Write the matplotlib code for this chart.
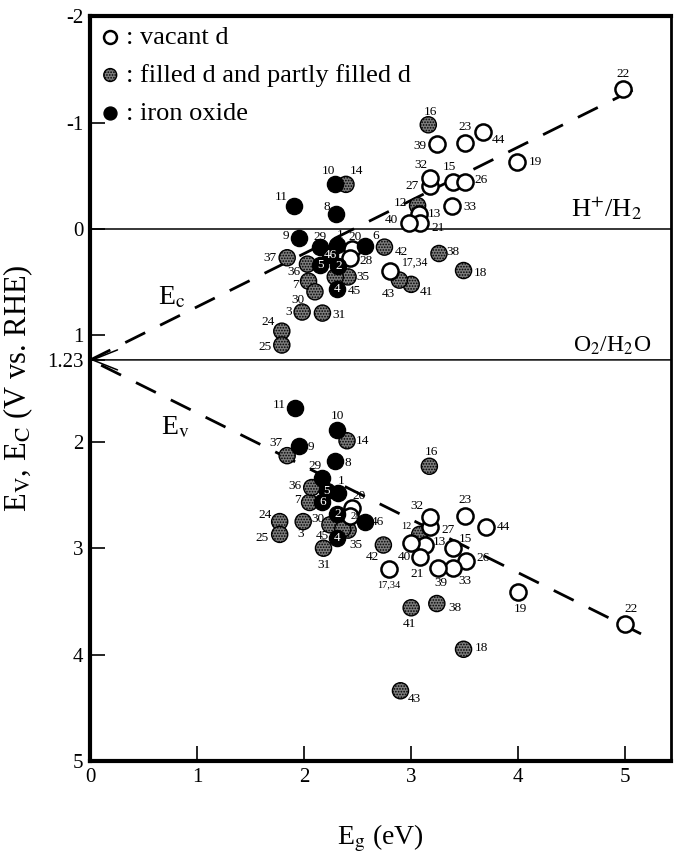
import numpy as np
import matplotlib
matplotlib.use("Agg")
import matplotlib.pyplot as plt

plt.rcParams['font.family'] = ['Liberation Serif', 'DejaVu Serif']
plt.rcParams['mathtext.fontset'] = 'stix'
plt.rcParams['axes.unicode_minus'] = False
plt.rcParams['lines.scale_dashes'] = False
plt.rcParams['hatch.color'] = '#2a2a2a'
plt.rcParams['hatch.linewidth'] = 0.8

# compound labels and d-electron class
names = ['1', '2', '3', '4', '5', '6', '7', '8', '9', '10', '11', '12', '13', '14', '15',
         '16', '17,34', '18', '19', '20', '21', '22', '23', '24', '25', '26', '27', '28',
         '29', '30', '31', '32', '33', '35', '36', '37', '38', '39', '40', '41', '42',
         '43', '44', '45', '46']
kind = ['iron', 'iron', 'filled', 'iron', 'iron', 'iron', 'filled', 'iron', 'iron', 'iron',
        'iron', 'filled', 'vacant', 'filled', 'vacant', 'filled', 'vacant', 'filled',
        'vacant', 'vacant', 'vacant', 'vacant', 'vacant', 'filled', 'filled', 'vacant',
        'vacant', 'vacant', 'iron', 'filled', 'filled', 'vacant', 'vacant', 'filled',
        'filled', 'filled', 'filled', 'vacant', 'vacant', 'filled', 'filled', 'filled',
        'vacant', 'filled', 'iron']

# conduction band edge (Ec) points: band gap, potential
ec_eg = [2.31, 2.32, 1.98, 2.31, 2.15, 2.57, 2.04, 2.30, 1.95, 2.29, 1.90, 3.06, 3.07, 2.39,
         3.39, 3.16, 2.80, 3.49, 3.99, 2.45, 3.08, 4.98, 3.50, 1.79, 1.79, 3.50, 3.18, 2.43,
         2.15, 2.10, 2.17, 3.18, 3.38, 2.41, 2.03, 1.84, 3.26, 3.24, 2.98, 3.00, 2.75, 2.89,
         3.67, 2.29, 2.24]
ec_e = [0.15, 0.35, 0.78, 0.56, 0.34, 0.16, 0.49, -0.14, 0.08, -0.42, -0.22, -0.22, -0.14,
        -0.42, -0.44, -0.98, 0.39, 0.39, -0.63, 0.19, -0.06, -1.32, -0.81, 0.96, 1.09, -0.44,
        -0.40, 0.27, 0.17, 0.59, 0.79, -0.48, -0.22, 0.45, 0.33, 0.27, 0.23, -0.80, -0.06,
        0.52, 0.17, 0.48, -0.91, 0.45, 0.24]

# valence band edge (Ev) points: band gap, potential
ev_eg = [2.32, 2.31, 1.99, 2.31, 2.21, 2.17, 2.05, 2.29, 1.95, 2.31, 1.91, 3.08, 3.13, 2.40,
         3.39, 3.17, 2.79, 3.49, 4.00, 2.45, 3.08, 5.00, 3.50, 1.77, 1.77, 3.51, 3.18, 2.43,
         2.17, 2.24, 2.18, 3.18, 3.39, 2.41, 2.07, 1.84, 3.24, 3.25, 3.00, 3.00, 2.74, 2.90,
         3.70, 2.36, 2.57]
ev_e = [2.48, 2.68, 2.75, 2.90, 2.46, 2.57, 2.57, 2.18, 2.04, 1.89, 1.68, 2.87, 2.97, 1.99,
        3.00, 2.23, 3.20, 3.95, 3.41, 2.62, 3.08, 3.71, 2.70, 2.75, 2.87, 3.12, 2.80, 2.70,
        2.34, 2.78, 3.00, 2.71, 3.19, 2.83, 2.43, 2.13, 3.52, 3.19, 2.95, 3.56, 2.97, 4.34,
        2.80, 2.82, 2.75]

# guide lines
ec_line_x = [0, 5.15]
ec_line_y = [1.23, -1.345]
ev_line_x = [0.1, 5.15]
ev_line_y = [1.28, 3.805]
h2_level = 0
o2_level = 1.23

x_ticks = [0, 1, 2, 3, 4, 5]
y_ticks = [-2, -1, 0, 1, 1.23, 2, 3, 4, 5]
y_tick_labels = ['-2', '-1', '0', '1', '1.23', '2', '3', '4', '5']

# label offsets in pixels (label placement only)
ec_off = {'1': (3, 10), '3': (-13, 0), '6': (10, 10), '7': (-13, -4), '8': (-10, 7),
          '9': (-13, 2), '10': (-7, 13), '11': (-12, 9), '12': (-17, 3), '13': (16, 0),
          '14': (11, 13), '15': (-3, 15), '16': (2, 13), '17,34': (25, 8), '18': (17, -2),
          '19': (18, 0), '20': (3, 12), '21': (18, -5), '22': (0, 15), '23': (0, 16),
          '24': (-14, 9), '25': (-17, -2), '26': (16, 2), '27': (-18, 0), '28': (16, -3),
          '29': (0, 10), '30': (-17, -8), '31': (17, -2), '32': (-9, 13), '33': (18, -1),
          '35': (15, 0), '36': (-14, -8), '37': (-17, 0), '38': (14, 2), '39': (-17, -2),
          '40': (-18, 3), '41': (15, -8), '42': (17, -5), '43': (-11, -14), '44': (16, -8),
          '45': (19, -14)}
ec_inside = ['2', '4', '5', '46']
ev_off = {'1': (3, 12), '3': (-3, -12), '7': (-12, 2), '8': (13, -2), '9': (12, -1),
          '10': (0, 14), '11': (-15, 3), '12': (-13, 8), '13': (14, 3), '14': (15, 0),
          '15': (13, 9), '16': (2, 14), '17,34': (0, -15), '18': (18, 1), '19': (2, -17),
          '20': (7, 12), '21': (-3, -17), '22': (6, 15), '23': (0, 16), '24': (-15, 7),
          '25': (-18, -4), '26': (17, 3), '27': (18, -3), '28': (5, 0), '29': (-7, 12),
          '30': (-12, 6), '31': (0, -17), '32': (-13, 11), '33': (12, -13), '35': (8, -15),
          '36': (-17, 2), '37': (-11, 13), '38': (18, -4), '39': (3, -15), '40': (-7, -14),
          '41': (-2, -16), '42': (-11, -12), '43': (14, -8), '44': (17, 0), '45': (-20, -7),
          '46': (12, 0)}
ev_inside = ['2', '4', '5', '6']

fig = plt.figure(figsize=(6.75, 8.56), dpi=100)
ax = fig.add_axes([0.134, 0.111, 0.86, 0.870])

styles = {
    'vacant': dict(facecolor='white', edgecolor='black', linewidths=1.8, zorder=4),
    'filled': dict(facecolor='#7c7c7c', edgecolor='black', linewidths=1.0, hatch='......', zorder=3),
    'iron': dict(facecolor='black', edgecolor='black', linewidths=1.0, zorder=5),
}
legend_text = {'vacant': ': vacant d', 'filled': ': filled d and partly filled d',
               'iron': ': iron oxide'}

kind_arr = np.array(kind)
handles = {}
for k in ['filled', 'vacant', 'iron']:
    m = kind_arr == k
    h = ax.scatter(np.array(ec_eg)[m], np.array(ec_e)[m], s=135, **styles[k])
    ax.scatter(np.array(ev_eg)[m], np.array(ev_e)[m], s=135, **styles[k])
    handles[k] = h

small = ('28', '12', '17,34')
for i, n in enumerate(names):
    if n in ec_inside:
        ax.annotate(n, (ec_eg[i], ec_e[i]), ha='center', va='center', color='white',
                    fontsize=9.5, zorder=6)
    else:
        fs = 8.5 if n == '17,34' else 9.5
        ax.annotate(n, (ec_eg[i], ec_e[i]), xytext=ec_off[n], textcoords='offset pixels',
                    ha='center', va='center', fontsize=fs, zorder=6)
    if n in ev_inside:
        ax.annotate(n, (ev_eg[i], ev_e[i]), ha='center', va='center', color='white',
                    fontsize=9.5, zorder=6)
    else:
        fs = 7.5 if n in small else 9.5
        ax.annotate(n, (ev_eg[i], ev_e[i]), xytext=ev_off[n], textcoords='offset pixels',
                    ha='center', va='center', fontsize=fs, zorder=6)

ax.plot(ec_line_x, ec_line_y, color='black', lw=2, dashes=(16, 12), zorder=1)
ax.plot(ev_line_x, ev_line_y, color='black', lw=2, dashes=(16, 12), zorder=1)
ax.axhline(h2_level, color='black', lw=1.1, zorder=1)
ax.annotate('', xy=(0, o2_level), xytext=(5.43, o2_level),
            arrowprops=dict(arrowstyle='->,head_length=1.5,head_width=0.6', lw=1.1,
                            mutation_scale=12, shrinkA=0, shrinkB=0), zorder=1)

ax.text(0.76, 0.64, r'E$_\mathrm{c}$', fontsize=20, ha='center', va='center')
ax.text(0.79, 1.87, r'E$_\mathrm{v}$', fontsize=20, ha='center', va='center')
ax.text(4.83, -0.2, r'H$^{+}$/H$_{2}$', fontsize=19, ha='center', va='center')
ax.text(4.88, 1.1, r'O$_{2}$/H$_{2}$O', fontsize=17, ha='center', va='center')

ax.set_xlim(0, 5.43)
ax.set_ylim(5, -2)
ax.set_xticks(x_ticks)
ax.set_yticks(y_ticks)
ax.set_yticklabels(y_tick_labels)
ax.tick_params(direction='in', length=11, width=1.2, labelsize=15, pad=5)
for s in ['left', 'bottom', 'top']:
    ax.spines[s].set_linewidth(3)
ax.spines['right'].set_linewidth(2)

ax.set_xlabel(r'E$_\mathrm{g}$ (eV)', fontsize=20)
ax.set_ylabel(r'E$_\mathrm{V}$, E$_\mathrm{C}$ (V vs. RHE)', fontsize=22)
ax.xaxis.set_label_coords(0.5, -0.083)
ax.yaxis.set_label_coords(-0.096, 0.5)

ax.legend([handles['vacant'], handles['filled'], handles['iron']],
          [legend_text['vacant'], legend_text['filled'], legend_text['iron']],
          loc='upper left', frameon=False, fontsize=19, markerscale=0.8,
          handlelength=0.8, handletextpad=0.2, labelspacing=0.55, borderaxespad=0.1,
          borderpad=0.25)

fig.savefig('out.png', dpi=100)
